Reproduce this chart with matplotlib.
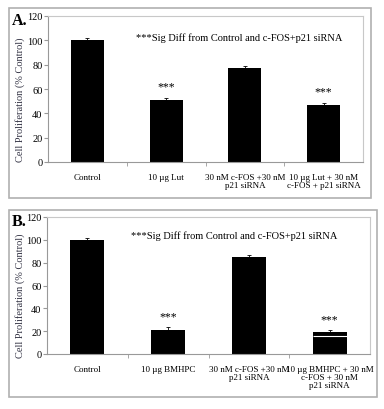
import matplotlib
matplotlib.use("Agg")
import matplotlib.pyplot as plt
from matplotlib.patches import Rectangle
import numpy as np

plt.rcParams['font.family'] = ['Liberation Serif', 'DejaVu Serif']

# Panel A data
labels_a = ["Control", "10 \u00b5g Lut", "30 nM c-FOS +30 nM\np21 siRNA",
            "10 \u00b5g Lut + 30 nM\nc-FOS + p21 siRNA"]
values_a = [100, 51, 77, 47]
errors_a = [2, 1.5, 2, 1.5]
stars_a = ["", "***", "", "***"]

# Panel B data
labels_b = ["Control", "10 \u00b5g BMHPC", "30 nM c-FOS +30 nM\np21 siRNA",
            "10 \u00b5g BMHPC + 30 nM\nc-FOS + 30 nM\np21 siRNA"]
values_b = [100, 21, 85, 19]
errors_b = [2, 2.5, 2, 2]
stars_b = ["", "***", "", "***"]

note = "***Sig Diff from Control and c-FOS+p21 siRNA"
W, H = 384, 410
fig = plt.figure(figsize=(W / 100, H / 100), dpi=100)


def px_rect(x0, y0, x1, y1):
    return [x0 / W, 1 - y1 / H, (x1 - x0) / W, (y1 - y0) / H]


def panel(box, axbox, letter, labels, values, errors, stars, note_xy):
    b = px_rect(*box)
    fig.patches.append(Rectangle((b[0], b[1]), b[2], b[3], transform=fig.transFigure,
                                 fill=False, edgecolor='#b0b0b0', lw=1.2))
    ax = fig.add_axes(px_rect(*axbox))
    x = np.arange(len(values))
    ax.bar(x, values, width=0.42, color='black')
    ax.errorbar(x, values, yerr=errors, fmt='none', ecolor='black', elinewidth=0.6,
                capsize=1.2, capthick=0.6)
    for xi, v, e, s in zip(x, values, errors, stars):
        if s:
            ax.text(xi, v + e + 4.5, s, ha='center', va='bottom', fontsize=8.5)
    ax.set_xlim(-0.5, len(values) - 0.5)
    ax.set_ylim(0, 120)
    ax.set_yticks(range(0, 121, 20))
    ax.set_xticks(x)
    ax.set_xticklabels(labels, fontsize=6.5, linespacing=1.0)
    ax.set_xticks(np.arange(0.5, len(values) - 0.5, 1), minor=True)
    ax.tick_params(axis='x', which='major', length=0, pad=8)
    ax.tick_params(axis='x', which='minor', length=3, color='#999999', direction='out')
    ax.tick_params(axis='y', labelsize=7.5, length=3, color='#999999', pad=1)
    for side in ['top', 'right']:
        ax.spines[side].set_color('#c8c8c8')
    for side in ['left', 'bottom']:
        ax.spines[side].set_color('#999999')
    ax.set_ylabel("Cell Proliferation (% Control)", fontsize=7.5, color='#333344')
    ax.yaxis.set_label_coords(-(axbox[0] - 25) / (axbox[2] - axbox[0]), 0.43)
    ax.text(note_xy[0], note_xy[1], note, transform=ax.transAxes, ha='center',
            va='center', fontsize=7.5)
    fig.text((box[0] + 3) / W, 1 - (axbox[1] + 4) / H, letter, fontsize=11.5,
             fontweight='bold', ha='left', va='center')
    return ax


ax_a = panel((9, 9, 371, 199), (48, 17, 363, 163), "A.", labels_a, values_a, errors_a,
             stars_a, (0.606, 0.856))
ax_b = panel((9, 211, 377, 398), (47, 218, 370, 355), "B.", labels_b, values_b, errors_b,
             stars_b, (0.579, 0.869))

# white line visible inside the last bar of panel B
ax_b.hlines([16], [3 - 0.21], [3 + 0.21], colors='white', lw=0.8)

fig.savefig("out.png", dpi=100)
